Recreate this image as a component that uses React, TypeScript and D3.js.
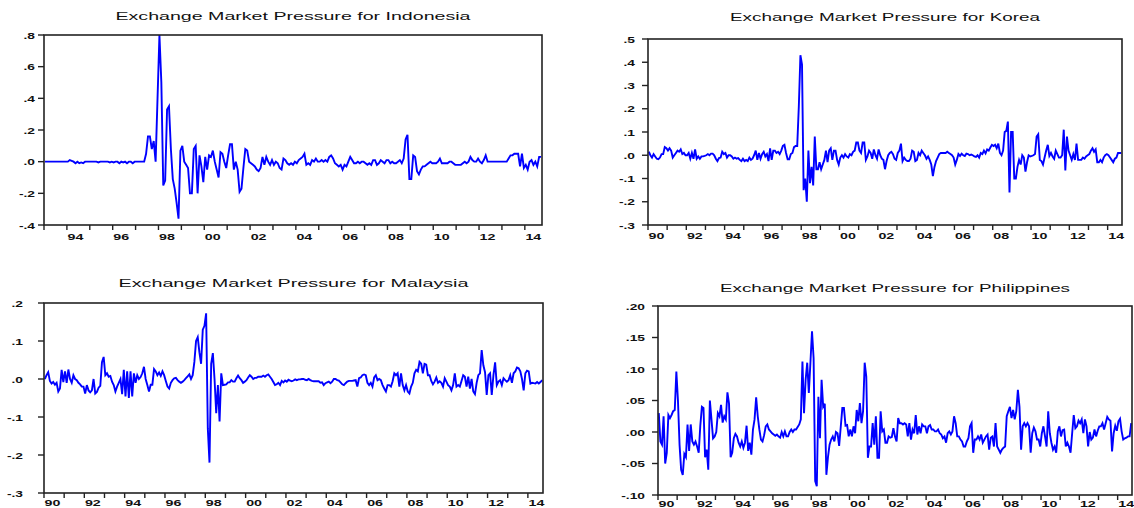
import React from 'react';
import * as d3 from 'd3';

// monthly exchange market pressure index
// Indonesia starts 1993M1, the others 1990M1; all run to 2014M9
const indonesiaEmp = [
  0, 0, 0, 0, 0, 0, 0, 0, 0, 0, 0, 0,
  0, 0.01, 0.005, 0, -0.01, 0, -0.01, -0.005, -0.01, 0, 0, 0,
  0, 0, 0, 0, -0.005, 0, 0, 0, 0, 0, -0.005, 0,
  -0.005, 0, 0, -0.01, 0, -0.005, 0, -0.01, 0, 0, -0.01, 0,
  0, 0, 0, 0, 0, 0.05, 0.16, 0.16, 0.08, 0.13, 0, 0.4,
  0.8, 0.5, -0.15, -0.12, 0.33, 0.35, 0.08, -0.11, -0.17, -0.26, -0.36, 0.07,
  0.1, 0, -0.02, -0.04, -0.2, -0.2, 0.08, 0.1, -0.2, 0.04, -0.03, -0.13,
  0.03, -0.05, 0.04, 0.03, 0.07, 0, -0.05, -0.1, 0.06, 0.05, 0, -0.04,
  0.04, 0.11, 0.11, -0.05, 0, -0.05, -0.19, -0.17, -0.04, 0.08, 0.07, 0,
  -0.01, -0.02, -0.03, -0.05, -0.06, -0.04, 0.03, -0.02, 0.03, 0, -0.02, 0.01,
  -0.02, 0, -0.01, -0.04, -0.05, 0.02, 0.01, -0.01, -0.02, -0.01, -0.02, 0,
  -0.01, 0.01, 0.02, 0.03, 0.05, -0.02, -0.01, -0.02, 0.01, 0, 0.02, 0,
  0, 0.01, 0, 0.01, 0, 0.03, 0.04, 0.02, -0.01, -0.02, -0.03, -0.02,
  -0.05, -0.02, -0.03, 0, 0.03, 0.01, -0.01, -0.01, 0, -0.01, 0, 0,
  -0.01, -0.02, -0.01, -0.02, 0.01, 0.01, -0.02, -0.01, 0.01, 0, -0.01, 0.01,
  0.01, -0.01, 0, -0.01, -0.01, 0, 0.01, -0.01, 0.02, 0.14, 0.17, -0.11,
  -0.11, 0.04, 0.03, -0.06, -0.08, -0.05, -0.03, -0.03, -0.02, -0.01, 0, -0.01,
  -0.01, -0.01, 0, 0.02, -0.01, -0.01, -0.01, -0.01, 0, 0, -0.01, -0.02,
  -0.02, -0.02, -0.02, -0.01, 0, -0.01, 0, 0.03, 0.01, 0, 0, 0.02,
  0, -0.01, 0.01, 0.04, 0, 0, 0, 0, 0, 0, 0, 0,
  0, 0, 0, 0.02, 0.04, 0.04, 0.05, 0.05, 0.05, -0.03, 0.05, -0.04,
  -0.02, -0.05, 0, 0.01, -0.02, 0, -0.03, 0.03, 0.03,
];

const koreaEmp = [
  0.015, 0, -0.01, 0.005, -0.005, -0.015, -0.017, -0.01, 0.005, 0.005, 0.035, 0.03,
  0.02, 0.03, 0.02, -0.01, 0, 0.01, 0.02, 0.015, 0.025, 0.005, 0.01, 0,
  0, 0.01, -0.015, 0.01, -0.015, 0.025, -0.015, -0.005, -0.015, -0.005, -0.005, -0.003,
  0, 0.005, 0, 0.007, 0.007, 0, -0.015, -0.025, -0.012, -0.01, 0.015, 0.005,
  0.01, -0.01, 0, 0, -0.005, -0.015, -0.01, -0.015, -0.012, -0.02, -0.025, -0.015,
  -0.025, -0.02, -0.025, -0.01, -0.02, -0.015, 0, 0.02, -0.02, 0.01, -0.015, 0.005,
  0.015, -0.005, 0.005, -0.025, 0.03, -0.02, 0.02, 0.02, 0.01, 0.015, 0.005, 0.02,
  0.04, 0.045, 0.01, -0.017, -0.017, 0.005, 0.01, 0.035, 0.04, 0.04, 0.21, 0.43,
  0.39, -0.15, -0.1, -0.2, 0.02, -0.12, -0.05, -0.13, 0.08, -0.06, -0.06, -0.03,
  -0.06, -0.04, -0.02, 0.02, -0.03, 0.02, 0.03, -0.02, 0.02, 0.02, -0.02, -0.04,
  -0.01, 0, -0.01, 0.005, -0.005, -0.01, 0.005, 0, 0.015, 0.02, 0.055, 0.055,
  0.02, 0.01, 0.055, 0.055, -0.02, -0.005, 0.02, 0.01, -0.015, 0.025, 0, -0.015,
  0.025, 0, -0.015, -0.02, -0.06, -0.025, 0, 0.01, 0.015, 0.005, -0.015, -0.02,
  0.01, 0.02, 0.05, -0.025, -0.01, -0.02, -0.025, -0.025, -0.015, 0.02, 0.015, -0.025,
  -0.02, 0.01, 0, 0.02, 0.01, 0, -0.015, -0.005, -0.02, -0.04, -0.09, -0.05,
  -0.025, -0.01, 0.005, 0.01, 0.01, 0.01, 0.01, 0.015, 0.01, 0.005, 0, -0.01,
  -0.04, -0.02, 0.005, -0.003, 0.007, 0, -0.003, 0.007, 0.005, 0, 0.003, 0,
  -0.005, -0.007, 0, -0.01, 0.01, 0.005, 0.02, 0.008, 0.025, 0.02, 0.033, 0.045,
  0.04, 0.045, 0.03, 0.05, 0.01, 0, 0.02, 0.1, 0.105, 0.145, -0.16, 0.1,
  0.1, -0.1, -0.1, -0.05, -0.02, -0.04, 0, -0.01, -0.07, -0.03, 0, -0.005,
  -0.003, 0, 0.005, 0.08, 0.09, -0.02, -0.025, -0.04, -0.01, 0.02, 0.045, -0.003,
  0.01, -0.005, -0.015, 0.02, 0.005, -0.01, -0.01, 0, 0.11, -0.065, 0.08, 0.02,
  0, -0.02, 0.005, -0.02, 0.05, -0.02, -0.02, -0.02, -0.01, -0.015, -0.005, 0,
  0.005, 0.02, 0.03, 0.015, 0.025, -0.03, -0.03, -0.02, -0.03, -0.01, 0, 0.005,
  0, -0.01, -0.02, -0.03, -0.015, -0.01, 0.01, 0.01, 0.01,
];

const malaysiaEmp = [
  0, 0.01, 0.018, -0.005, -0.012, -0.008, -0.015, -0.01, -0.033, -0.025, 0.024, -0.008,
  0.02, -0.01, 0.025, 0, -0.01, 0.01, 0, -0.003, -0.01, -0.014, -0.02, -0.02,
  -0.038, -0.016, -0.03, -0.035, -0.03, 0, -0.038, -0.034, -0.023, -0.018, 0.044, 0.058,
  0.01, 0.015, 0.006, 0.008, -0.007, -0.016, -0.033, -0.02, -0.01, 0, -0.04, 0.024,
  -0.046, 0.02, -0.05, 0.02, -0.046, 0.015, -0.01, 0.01, 0, 0.005, 0.015, 0.032,
  0, -0.016, -0.033, -0.015, -0.015, 0.026, 0.02, 0.01, 0.017, 0.008, 0.02, 0.01,
  -0.005, -0.02, -0.025, -0.01, -0.003, 0.002, 0.003, -0.003, -0.007, -0.01, -0.007, -0.003,
  0.002, 0.007, 0.012, 0, 0.01, 0.045, 0.1, 0.11, 0.07, 0.04, 0.13, 0.14,
  0.173, -0.13, -0.22, 0.04, 0.068, 0, -0.09, -0.016, -0.112, 0.015, -0.016, -0.015,
  -0.014, -0.009, -0.009, -0.003, -0.007, -0.007, 0.002, 0.009, 0.002, -0.003, -0.01, -0.007,
  -0.003, 0.004, 0.01, 0.006, 0, 0.003, 0.003, 0.006, 0.006, 0.006, 0.009, 0.006,
  0.01, 0.012, 0.006, 0, -0.008, -0.016, -0.014, -0.01, -0.016, -0.005, -0.009, -0.004,
  -0.007, -0.002, -0.004, -0.006, -0.004, -0.001, -0.003, -0.001, -0.001, 0, 0, -0.002,
  -0.003, 0, -0.003, -0.005, -0.006, -0.006, -0.006, -0.006, -0.01, -0.009, -0.016, -0.011,
  -0.009, -0.007, -0.011, -0.007, 0, 0, -0.003, -0.004, -0.009, -0.014, -0.016, -0.011,
  -0.007, -0.005, -0.005, -0.005, -0.004, -0.003, -0.02, 0.002, 0.004, 0.01, 0.012, 0.01,
  -0.01, -0.016, -0.01, -0.02, 0.004, 0.01, -0.003, 0, -0.003, -0.016, -0.025, -0.033,
  -0.016, -0.016, -0.02, -0.006, 0.015, 0.01, 0.015, -0.02, 0.015, -0.016, -0.03, -0.016,
  -0.033, -0.038, -0.02, -0.01, 0.015, 0.024, 0.02, 0.045, 0.04, 0.015, 0.04, 0.038,
  0.01, 0.01, -0.005, -0.014, -0.007, 0.004, -0.01, -0.006, -0.01, -0.02, 0.002, -0.007,
  -0.016, -0.02, -0.03, -0.016, 0.015, -0.02, -0.016, -0.02, -0.005, 0.01, 0.006, -0.02,
  0.006, -0.025, 0, -0.033, -0.04, -0.01, 0.01, 0.015, 0.076, 0.036, 0.018, -0.042,
  0.01, 0.015, -0.042, 0.01, 0.044, -0.016, -0.007, -0.003, -0.016, 0.002, -0.003, -0.007,
  -0.003, 0.01, -0.01, 0.015, 0.02, 0.03, 0.028, 0.02, 0, -0.03, 0.015, 0.022,
  0.02, -0.012, -0.01, -0.011, -0.012, -0.008, -0.012, -0.008, -0.003,
];

const philippinesEmp = [
  0.03, -0.015, -0.02, 0.025, -0.05, -0.033, 0.027, 0.022, 0.027, 0.033, 0.035, 0.096,
  0.05, -0.02, -0.06, -0.068, -0.035, -0.04, 0.012, -0.03, 0.012, -0.015, -0.02, -0.015,
  -0.023, -0.033, 0.01, 0.04, 0.038, -0.04, -0.028, -0.06, 0.05, 0.02, -0.01, -0.007,
  0, 0.03, 0.025, 0.043, 0.015, 0.025, 0.02, 0.063, 0.045, -0.04, -0.033, -0.01,
  -0.003, -0.007, -0.017, -0.023, -0.015, -0.025, -0.017, 0.01, -0.03, -0.017, -0.036, 0.004,
  0.02, 0.055, 0.025, 0.004, -0.012, -0.015, -0.005, 0.009, 0.012, 0.004, 0.001, -0.002,
  -0.004, -0.006, -0.004, -0.007, -0.009, 0, -0.007, 0.001, -0.007, -0.007, 0, 0.004,
  0, 0.004, 0.004, 0.008, 0.012, 0.02, 0.112, 0.03, 0.083, 0.11, 0.062, 0.11,
  0.16, 0.117, -0.078, -0.086, 0.056, -0.01, 0.083, 0.04, 0.045, -0.068, -0.04, -0.02,
  -0.012, -0.007, -0.015, 0, -0.002, -0.022, 0.008, 0.038, 0.038, 0.01, 0.011, -0.007,
  0.004, -0.007, 0.009, -0.002, 0.035, 0.017, 0.046, 0.014, 0.033, 0.11, 0.088, -0.041,
  -0.023, -0.023, 0.014, -0.02, 0.025, -0.041, -0.041, 0.033, 0.001, 0.004, -0.017, -0.017,
  -0.007, -0.009, -0.008, 0.006, -0.007, -0.015, 0.022, 0.014, 0.014, 0.012, 0.014, 0.012,
  -0.007, 0.014, -0.012, 0.004, -0.002, 0.027, -0.004, 0.009, -0.002, 0.012, 0.009, 0.009,
  -0.002, 0.009, 0.011, 0.004, 0.004, 0.001, 0.001, 0.004, -0.002, -0.004, -0.01, -0.007,
  -0.017, -0.002, 0.001, -0.004, 0.001, 0.025, 0.014, -0.007, -0.007, -0.012, -0.015, -0.023,
  -0.023, -0.015, -0.01, 0.009, 0.014, -0.033, -0.012, -0.012, -0.007, -0.012, -0.004, -0.017,
  -0.012, -0.007, -0.004, -0.028, -0.009, -0.007, -0.023, 0.014, -0.023, -0.028, -0.033, -0.028,
  -0.025, -0.023, 0.025, 0.033, 0.04, 0.022, 0.035, 0.02, 0.033, 0.067, 0.04, -0.028,
  0.009, 0.014, 0.009, 0.014, 0.009, -0.033, -0.002, 0.007, 0.001, -0.012, -0.012, -0.023,
  -0.002, 0.009, -0.007, -0.023, 0.033, -0.002, -0.017, -0.028, -0.023, -0.033, 0.001, 0.009,
  -0.007, 0.003, 0.004, -0.023, -0.017, -0.023, -0.033, -0.002, 0.027, 0.006, 0.009, 0.018,
  0.014, 0.02, -0.002, 0.02, 0.009, -0.023, 0, -0.012, -0.009, 0.004, -0.007, 0.002,
  0.009, 0.009, 0.014, 0.004, 0.014, 0.024, 0.02, 0.018, -0.031, -0.002, 0.01, 0.002,
  0.017, 0.021, 0.001, -0.012, -0.01, -0.009, -0.007, -0.007, 0.014,
];

const indonesiaTicks = [-0.4, -0.2, 0, 0.2, 0.4, 0.6, 0.8];
const koreaTicks = [-0.3, -0.2, -0.1, 0, 0.1, 0.2, 0.3, 0.4, 0.5];
const malaysiaTicks = [-0.3, -0.2, -0.1, 0, 0.1, 0.2];
const philippinesTicks = [-0.1, -0.05, 0, 0.05, 0.1, 0.15, 0.2];

const yearsFrom94 = [1994, 1996, 1998, 2000, 2002, 2004, 2006, 2008, 2010, 2012, 2014];
const yearsFrom90 = [1990, 1992, 1994, 1996, 1998, 2000, 2002, 2004, 2006, 2008, 2010, 2012, 2014];

const FONT = '"Liberation Sans", Arial, Helvetica, sans-serif';

// eviews style number: .8  -.2  .05  (d3 gives a unicode minus, swap for hyphen)
const evFmt = (digits) => (v) => {
  const s = d3.format(`.${digits}f`)(Math.abs(v) < 1e-9 ? 0 : v).replace('\u2212', '-');
  return s.replace(/^(-?)0\./, '$1.');
};

const Panel = ({ title, values, start, yDomain, yTicks, digits, years, box, labelRight, titleY, titleW, xLabelY }) => {
  const end = start + values.length / 12;
  const x = d3.scaleLinear().domain([start, end]).range([box.x0, box.x1]);
  const y = d3.scaleLinear().domain(yDomain).range([box.y1, box.y0]);
  const line = d3.line()
    .x((d, i) => x(start + (i + 0.5) / 12))
    .y((d) => y(d));
  const fmt = evFmt(digits);
  const yearTicks = d3.range(Math.ceil(start), Math.floor(end) + 1);
  const cx = (box.x0 + box.x1) / 2;

  return (
    <g>
      <text x={cx} y={titleY} textAnchor="middle" fontFamily={FONT} fontSize={11}
        textLength={titleW} lengthAdjust="spacingAndGlyphs" fill="#111">{title}</text>

      <path d={line(values)} fill="none" stroke="#0000ff" strokeWidth={1.9} />

      <rect x={box.x0} y={box.y0} width={box.x1 - box.x0} height={box.y1 - box.y0}
        fill="none" stroke="#222" strokeWidth={1.6} />

      {yTicks.map((t) => (
        <g key={t}>
          <line x1={box.x0 - 6} x2={box.x0} y1={y(t)} y2={y(t)} stroke="#222" strokeWidth={1.4} />
          <text transform={`translate(${labelRight},${y(t) + 3.5}) scale(1.45,1)`} textAnchor="end"
            fontFamily={FONT} fontSize={9.5} fontWeight="bold" fill="#111">{fmt(t)}</text>
        </g>
      ))}

      {yearTicks.map((yr) => (
        <line key={yr} x1={x(yr)} x2={x(yr)} y1={box.y1} y2={box.y1 + 5} stroke="#222" strokeWidth={1.4} />
      ))}
      {years.map((yr) => (
        <text key={yr} transform={`translate(${x(yr) + 8.5},${xLabelY}) scale(1.5,1)`} textAnchor="middle"
          fontFamily={FONT} fontSize={9.5} fontWeight="bold" fill="#111">{String(yr).slice(2)}</text>
      ))}
    </g>
  );
};

const panels = [
  {
    title: 'Exchange Market Pressure for Indonesia', values: indonesiaEmp, start: 1993,
    yDomain: [-0.4, 0.8], yTicks: indonesiaTicks, digits: 1, years: yearsFrom94,
    box: { x0: 44, x1: 542, y0: 35, y1: 225 }, labelRight: 35, titleY: 20, titleW: 355, xLabelY: 240,
  },
  {
    title: 'Exchange Market Pressure for Korea', values: koreaEmp, start: 1990,
    yDomain: [-0.3, 0.5], yTicks: koreaTicks, digits: 1, years: yearsFrom90,
    box: { x0: 648, x1: 1122, y0: 39, y1: 225 }, labelRight: 635, titleY: 21, titleW: 310, xLabelY: 239,
  },
  {
    title: 'Exchange Market Pressure for Malaysia', values: malaysiaEmp, start: 1990,
    yDomain: [-0.3, 0.2], yTicks: malaysiaTicks, digits: 1, years: yearsFrom90,
    box: { x0: 44, x1: 543, y0: 303, y1: 493 }, labelRight: 23, titleY: 287, titleW: 350, xLabelY: 506,
  },
  {
    title: 'Exchange Market Pressure for Philippines', values: philippinesEmp, start: 1990,
    yDomain: [-0.1, 0.2], yTicks: philippinesTicks, digits: 2, years: yearsFrom90,
    box: { x0: 658, x1: 1132, y0: 306, y1: 495 }, labelRight: 645, titleY: 292, titleW: 350, xLabelY: 507,
  },
];

export default function App() {
  return (
    <svg width={1134} height={508} style={{ position: 'absolute', left: 0, top: 0, background: '#fff' }}>
      {panels.map((p) => <Panel key={p.title} {...p} />)}
    </svg>
  );
}
